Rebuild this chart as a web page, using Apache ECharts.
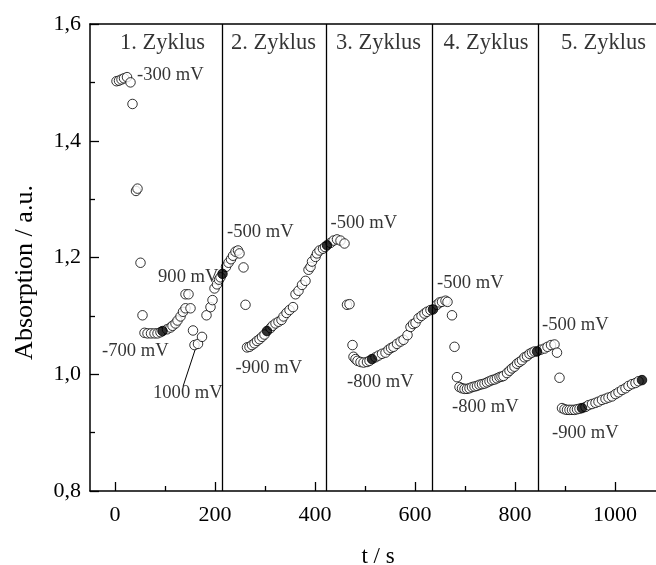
<!DOCTYPE html>
<html><head><meta charset="utf-8">
<script src="https://cdn.jsdelivr.net/npm/echarts@6/dist/echarts.min.js"></script>
<style>html,body{margin:0;padding:0;background:#fff}#c{width:656px;height:565px}</style>
</head><body><div id="c"></div>
<script>
// open circles: time (s) and absorption (a.u.)
const openT = [3,8,13,18,24,31,35,42,45,51,55,59,65,72,79,85,91,
  104,111,115,121,125,131,136,141,141,147,151,156,159,166,174,183,191,195,199,204,208,211,
  222,227,232,236,241,246,249,257,261,264,269,274,279,284,289,294,299,
  311,315,321,327,333,337,343,349,356,361,367,374,381,387,391,394,401,404,409,416,420,
  431,437,444,451,459,464,469,475,477,481,485,491,497,504,509,
  521,527,534,541,547,552,557,564,571,577,585,591,596,601,607,613,619,624,631,
  644,649,654,661,665,674,679,684,689,694,699,704,709,714,719,724,729,734,739,744,749,754,759,764,769,773,777,784,789,794,799,804,809,814,819,824,829,834,839,
  851,859,865,872,879,884,889,894,899,904,909,914,919,924,929,
  941,947,954,961,967,974,981,987,994,1001,1007,1014,1021,1027,1034,1041,1047];
const openA = [1.502,1.503,1.505,1.507,1.509,1.500,1.463,1.314,1.318,1.191,1.101,1.071,1.070,1.070,1.070,1.070,1.072,
  1.077,1.080,1.083,1.087,1.092,1.099,1.107,1.113,1.137,1.137,1.113,1.075,1.050,1.052,1.064,1.101,1.115,1.127,1.147,1.154,1.162,1.166,
  1.184,1.191,1.197,1.203,1.210,1.212,1.207,1.183,1.119,1.046,1.047,1.050,1.053,1.057,1.060,1.064,1.068,
  1.079,1.083,1.087,1.090,1.093,1.099,1.105,1.110,1.115,1.137,1.143,1.153,1.160,1.179,1.184,1.193,1.201,1.207,1.212,1.215,1.218,
  1.225,1.229,1.231,1.229,1.224,1.119,1.120,1.050,1.030,1.026,1.023,1.021,1.020,1.021,1.023,
  1.029,1.032,1.035,1.037,1.042,1.045,1.047,1.052,1.056,1.059,1.067,1.081,1.086,1.088,1.096,1.100,1.104,1.107,1.110,
  1.119,1.123,1.124,1.126,1.124,1.101,1.047,0.995,0.978,0.976,0.975,0.975,0.976,0.978,0.979,0.980,0.982,0.983,0.984,0.986,0.988,0.990,0.991,0.993,0.995,0.996,0.997,1.002,1.006,1.010,1.013,1.018,1.021,1.024,1.029,1.031,1.035,1.037,1.039,
  1.042,1.044,1.047,1.050,1.051,1.037,0.994,0.942,0.940,0.939,0.939,0.939,0.939,0.940,0.941,
  0.944,0.947,0.949,0.951,0.953,0.956,0.958,0.960,0.962,0.966,0.969,0.973,0.976,0.980,0.983,0.985,0.988];
// filled circles
const filledT = [95,215,304,424,514,636,844,934,1054];
const filledA = [1.074,1.172,1.074,1.221,1.026,1.111,1.039,0.942,0.990];
// cycle boundaries
const dividerT = [215,423,635,846];
// cycle titles
const cycleNames = ['1. Zyklus','2. Zyklus','3. Zyklus','4. Zyklus','5. Zyklus'];
const cycleT = [95,317,527,742,977];
const cycleA = [1.567,1.567,1.567,1.567,1.567];
// potential annotations
const noteText = ['-300 mV','-500 mV','900 mV','-700 mV','1000 mV','-900 mV','-500 mV','-800 mV','-500 mV','-800 mV','-500 mV','-900 mV'];
const noteT = [44,224,207,-26,76,241,431,464,644,674,854,874];
const noteA = [1.513,1.243,1.166,1.039,0.967,1.010,1.259,0.987,1.156,0.944,1.084,0.900];
const noteSide = ['right','right','left','right','right','right','right','right','right','right','right','right'];
// leader line for 1000 mV
const leaderT = [136,161];
const leaderA = [0.979,1.044];
// ticks
const xTicks = [0,200,400,600,800,1000];
const xTickLabels = ['0','200','400','600','800','1000'];
const xMinorTicks = [100,300,500,700,900];
const yTicks = [0.8,1.0,1.2,1.4,1.6];
const yTickLabels = ['0,8','1,0','1,2','1,4','1,6'];

const FONT = 'Liberation Serif, Times New Roman, serif';
const chart = echarts.init(document.getElementById('c'), null, {renderer:'canvas'});
const zip = (a,b) => a.map((v,i)=>[v,b[i]]);
const axisCommon = {type:'value', min:-50, max:1082, splitLine:{show:false}, gridIndex:0};
const lookup = (ticks, labels) => (v) => {const i = ticks.findIndex(t=>Math.abs(t-v)<1e-6); return i>=0 ? labels[i] : '';};
chart.setOption({
  animation:false,
  backgroundColor:'#fff',
  grid:{left:90, top:24, right:0, height:467, containLabel:false, outerBoundsMode:'none'},
  xAxis:[
    Object.assign({}, axisCommon, {position:'bottom',
      axisLine:{show:true, onZero:false, lineStyle:{color:'#000', width:1.5}},
      axisTick:{show:true, inside:true, length:9, customValues:xTicks, lineStyle:{color:'#000', width:1.3}},
      axisLabel:{show:true, customValues:xTicks, color:'#000', fontFamily:FONT, fontSize:22, margin:13,
        formatter:lookup(xTicks, xTickLabels)},
      name:'t / s', nameLocation:'middle', nameGap:54,
      nameTextStyle:{color:'#000', fontFamily:FONT, fontSize:23, padding:[0,0,0,10]}}),
    Object.assign({}, axisCommon, {position:'bottom',
      axisLine:{show:false, onZero:false},
      axisTick:{show:true, inside:true, length:5, customValues:xMinorTicks, lineStyle:{color:'#000', width:1.3}},
      axisLabel:{show:false}}),
    Object.assign({}, axisCommon, {position:'top',
      axisLine:{show:true, onZero:false, lineStyle:{color:'#000', width:1.5}},
      axisTick:{show:false}, axisLabel:{show:false}})
  ],
  yAxis:[{type:'value', min:0.8, max:1.6, interval:0.2, position:'left',
    axisLine:{show:true, onZero:false, lineStyle:{color:'#000', width:1.5}},
    axisTick:{show:true, inside:true, length:9, lineStyle:{color:'#000', width:1.3}},
    minorTick:{show:true, splitNumber:2, length:5, lineStyle:{color:'#000', width:1.3}},
    splitLine:{show:false},
    axisLabel:{color:'#000', fontFamily:FONT, fontSize:22, margin:9, formatter:lookup(yTicks, yTickLabels)},
    name:'Absorption / a.u.', nameLocation:'middle', nameGap:52,
    nameTextStyle:{color:'#000', fontFamily:FONT, fontSize:26, padding:[0,30,0,0]}
  }],
  series:[
    {type:'scatter', xAxisIndex:0, data:zip(openT,openA), symbol:'circle', symbolSize:9.5,
      itemStyle:{color:'#fff', borderColor:'#000', borderWidth:1}, z:3,
      markLine:{silent:true, symbol:'none', label:{show:false},
        lineStyle:{color:'#000', width:1.3, type:'solid'},
        data:dividerT.map(t=>({xAxis:t}))}},
    {type:'scatter', xAxisIndex:0, data:zip(filledT,filledA), symbol:'circle', symbolSize:9.5,
      itemStyle:{color:'#000', borderColor:'#000', borderWidth:1}, z:4},
    {type:'line', xAxisIndex:0, data:zip(leaderT,leaderA), symbol:'none',
      lineStyle:{color:'#000', width:1}, z:2},
    {type:'scatter', xAxisIndex:0, symbolSize:0, z:5,
      data:cycleNames.map((n,i)=>({value:[cycleT[i],cycleA[i]], name:n})),
      label:{show:true, position:'inside', formatter:(p)=>p.name, color:'#000', fontFamily:FONT, fontSize:22.5}},
    {type:'scatter', xAxisIndex:0, symbolSize:0, z:5,
      data:noteText.map((n,i)=>({value:[noteT[i],noteA[i]], name:n,
        label:{position:noteSide[i], distance:0}})),
      label:{show:true, formatter:(p)=>p.name, color:'#000', fontFamily:FONT, fontSize:18.6}}
  ]
});
</script></body></html>
